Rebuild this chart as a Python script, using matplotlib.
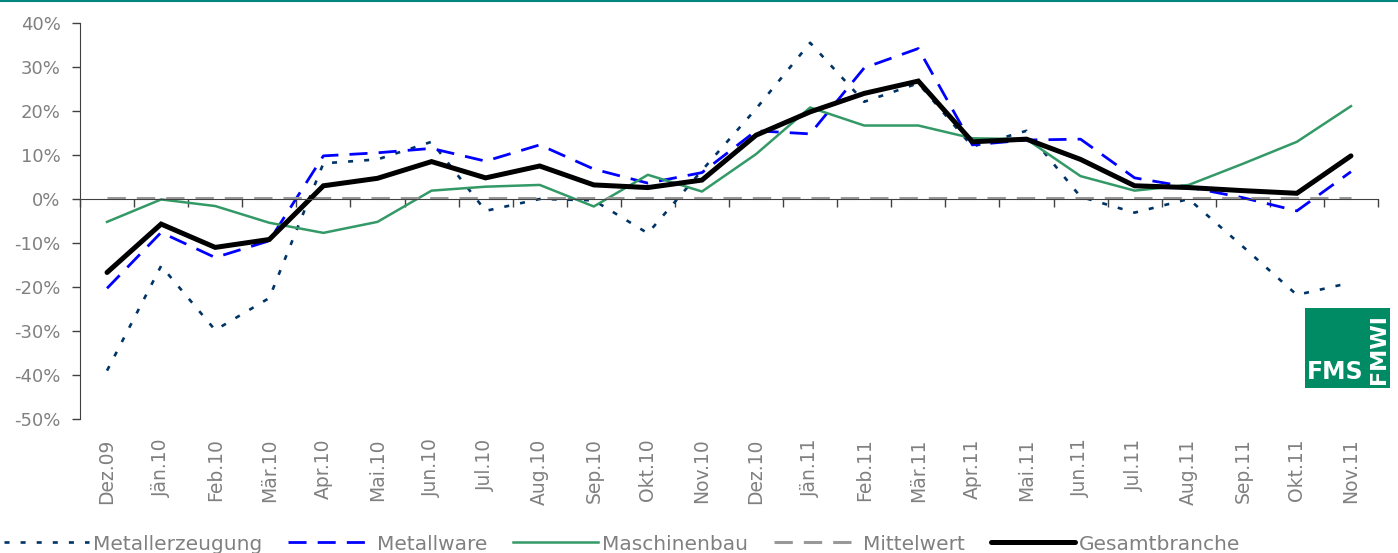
import matplotlib
matplotlib.use("Agg")
import matplotlib.pyplot as plt
from matplotlib.lines import Line2D
from matplotlib.patches import Rectangle
from matplotlib.ticker import FixedLocator, PercentFormatter

# Werte in %
months = ['Dez.09', 'Jän.10', 'Feb.10', 'Mär.10', 'Apr.10', 'Mai.10', 'Jun.10', 'Jul.10',
          'Aug.10', 'Sep.10', 'Okt.10', 'Nov.10', 'Dez.10', 'Jän.11', 'Feb.11', 'Mär.11',
          'Apr.11', 'Mai.11', 'Jun.11', 'Jul.11', 'Aug.11', 'Sep.11', 'Okt.11', 'Nov.11']
metallerzeugung = [-39.0, -15.2, -29.8, -22.5, 8.1, 9.0, 13.0, -2.7, 0.0, -0.3, -7.8, 6.5,
                   20.5, 35.5, 22.1, 26.3, 11.9, 15.5, 0.5, -3.1, 0.0, -10.8, -21.8, -19.0]
metallware = [-20.3, -7.6, -13.3, -9.5, 9.8, 10.5, 11.5, 8.6, 12.3, 6.8, 3.6, 6.0,
              15.5, 14.8, 29.8, 34.2, 12.3, 13.4, 13.6, 4.8, 2.7, 0.3, -2.7, 6.2]
maschinenbau = [-5.2, -0.1, -1.6, -5.4, -7.7, -5.2, 1.9, 2.8, 3.2, -1.7, 5.5, 1.7,
                10.2, 20.8, 16.7, 16.7, 13.8, 13.6, 5.2, 1.9, 3.2, 8.0, 13.0, 21.1]
mittelwert = [0.3] * len(months)
gesamtbranche = [-16.7, -5.7, -11.0, -9.2, 3.0, 4.7, 8.5, 4.8, 7.5, 3.2, 2.6, 4.3,
                 14.5, 19.8, 24.0, 26.8, 13.0, 13.6, 9.0, 3.0, 2.6, 1.9, 1.3, 9.8]

GRAY = '#808080'
plt.rcParams['font.family'] = ['DejaVu Sans']
plt.rcParams['axes.unicode_minus'] = False

fig = plt.figure(figsize=(13.98, 5.53), dpi=100)
ax = fig.add_axes([80/1398, 1 - 419/553, 1298/1398, 396/553])

x = list(range(len(months)))
ax.plot(x, metallerzeugung, color='#003366', lw=1.9, linestyle=(0, (1.9, 4.2)),
        label='Metallerzeugung')
ax.plot(x, metallware, color='#0000FF', lw=2.0, linestyle=(0, (6.5, 4.0)), label='Metallware')
ax.plot(x, maschinenbau, color='#339966', lw=1.8, label='Maschinenbau')
ax.plot(x, mittelwert, color='#999999', lw=2.2, linestyle=(0, (6.0, 3.6)), label='Mittelwert')
ax.plot(x, gesamtbranche, color='black', lw=3.6, solid_capstyle='round',
        solid_joinstyle='miter', label='Gesamtbranche')

ax.set_xlim(-0.5, len(months) - 0.5)
ax.set_ylim(-50, 40)
ax.set_yticks(range(-50, 41, 10))
ax.yaxis.set_major_formatter(PercentFormatter(decimals=0))
ax.tick_params(axis='y', direction='out', length=6, width=1, colors='#404040',
               labelcolor=GRAY, labelsize=13, pad=8)

# x-Achse bei 0 mit Strichen zwischen den Kategorien
for s in ['top', 'right']:
    ax.spines[s].set_visible(False)
ax.spines['left'].set_color('#404040')
ax.spines['bottom'].set_position(('data', 0))
ax.spines['bottom'].set_color('#404040')
ax.xaxis.set_major_locator(FixedLocator([]))
ax.xaxis.set_minor_locator(FixedLocator([i - 0.5 for i in range(len(months) + 1)]))
ax.tick_params(axis='x', which='minor', direction='out', length=5.5, width=1, colors='#404040')

# Beschriftung unten
sec = ax.secondary_xaxis(0)
sec.spines['bottom'].set_visible(False)
sec.set_xticks(x)
sec.set_xticklabels(months, rotation=90)
sec.tick_params(axis='x', length=0, pad=14, labelsize=13.5, labelcolor=GRAY)

leg = fig.legend(loc='center left', bbox_to_anchor=(4/1398, 1 - 544/553), ncol=5,
                 frameon=False, fontsize=14.5, handlelength=4.2, handletextpad=0.2,
                 columnspacing=1.3, borderpad=0, borderaxespad=0)
for t in leg.get_texts():
    t.set_color(GRAY)

# Linie oben
fig.add_artist(Line2D([0, 1], [0.998, 0.998], transform=fig.transFigure,
                      color='#00857F', lw=1.5))

# Logo
fig.add_artist(Rectangle((1305/1398, 1 - 388/553), 85/1398, 80/553,
                         transform=fig.transFigure, facecolor='#008B64', edgecolor='none'))
fig.text(1307/1398, 1 - 384/553, 'FMS', color='white', fontsize=17, fontweight='bold',
         ha='left', va='bottom')
fig.text(1389/1398, 1 - 384/553, 'FMWI', color='white', fontsize=16, fontweight='bold',
         rotation=90, ha='right', va='bottom')

fig.savefig('out.png', dpi=100)
